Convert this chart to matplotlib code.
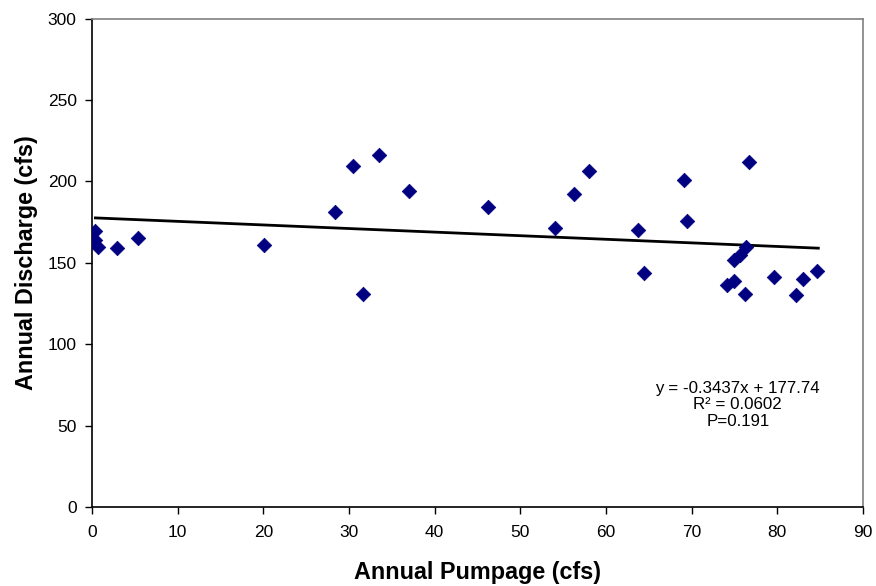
import numpy as np
import matplotlib.pyplot as plt

plt.rcParams['font.family'] = ['Liberation Sans', 'DejaVu Sans']

# annual pumpage (cfs) vs annual discharge (cfs)
pumpage = [0.4, 0.4, 0.7, 2.9, 5.4, 20.1,
           28.4, 30.5, 31.6, 33.5, 37.0, 46.2,
           54.0, 56.3, 58.0, 63.7, 64.4, 69.1, 69.5,
           74.1, 75.0, 75.0, 75.6, 76.2, 76.4, 76.7,
           79.6, 82.2, 83.0, 84.7]
discharge = [169.6, 164.1, 160.0, 159.4, 165.3, 160.8,
             181.5, 209.2, 131.1, 216.3, 194.0, 184.4,
             171.3, 192.4, 206.7, 170.3, 143.6, 201.0, 175.8,
             136.4, 138.7, 151.8, 154.9, 130.9, 159.6, 211.9,
             141.5, 130.1, 140.0, 145.1]

# trend line as drawn on the chart (end points)
trend_x = [0.4, 84.8]
trend_y = [177.6, 159.0]
fit_text = "y = -0.3437x + 177.74\nR\u00b2 = 0.0602\nP=0.191"

xticks = np.arange(0, 91, 10)
yticks = np.arange(0, 301, 50)

fig = plt.figure(figsize=(8.76, 5.86), dpi=100)
ax = fig.add_axes([0.105, 0.135, 0.88, 0.833])

ax.scatter(pumpage, discharge, marker='D', s=55, color='#000080',
           edgecolors='#000080', linewidths=0.5, zorder=3)

ax.plot(trend_x, trend_y, color='black', lw=2, zorder=2)

ax.text(75.4, 62.7, fit_text, ha='center', va='center', fontsize=12.2,
        linespacing=1.12)

ax.set_xlim(0, 90)
ax.set_ylim(0, 300)
ax.set_xticks(xticks)
ax.set_yticks(yticks)
ax.tick_params(direction='out', length=5, width=1, labelsize=12.5, pad=6)
ax.tick_params(axis='x', pad=8)

for side in ['left', 'bottom']:
    ax.spines[side].set_color('black')
    ax.spines[side].set_linewidth(1.2)
for side in ['top', 'right']:
    ax.spines[side].set_color('#808080')
    ax.spines[side].set_linewidth(1.2)

ax.set_xlabel('Annual Pumpage (cfs)', fontsize=16.8, fontweight='bold', labelpad=15)
ax.set_ylabel('Annual Discharge (cfs)', fontsize=16.8, fontweight='bold', labelpad=7)

fig.savefig('out.png', dpi=100)
